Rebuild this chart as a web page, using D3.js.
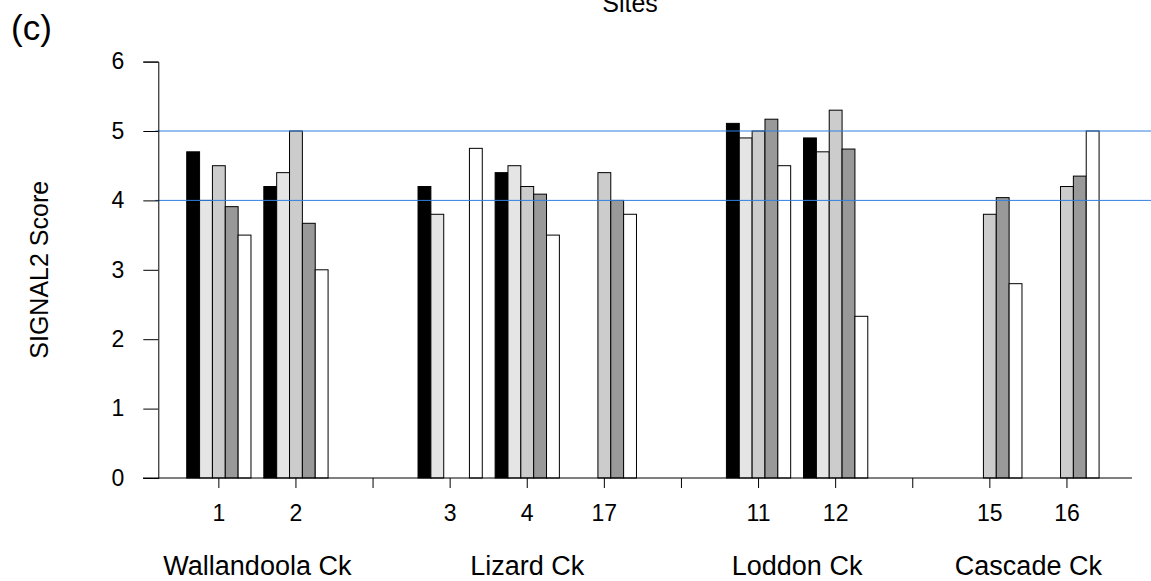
<!DOCTYPE html>
<html>
<head>
<meta charset="utf-8">
<script src="https://cdn.jsdelivr.net/npm/d3@7"></script>
<style>
  body { margin: 0; background: #fff; }
  svg text { font-family: "Liberation Sans", Arial, Helvetica, sans-serif; fill: #000; }
</style>
</head>
<body>
<div id="chart"></div>
<script>
// SIGNAL2 scores by site, grouped bar chart (panel c)

// Sites along the x axis ("" = spacer group between creeks)
const sites = ['1', '2', '', '3', '4', '17', '', '11', '12', '', '15', '16'];
// Creek each site belongs to
const siteCreek = ['Wallandoola Ck', 'Wallandoola Ck', '', 'Lizard Ck', 'Lizard Ck', 'Lizard Ck', '',
    'Loddon Ck', 'Loddon Ck', '', 'Cascade Ck', 'Cascade Ck'];
const creeks = ['Wallandoola Ck', 'Lizard Ck', 'Loddon Ck', 'Cascade Ck'];
// One array per survey (bar shade), one value per site
const survey1 = [4.70, 4.20, 0, 4.20, 4.40, 0, 0, 5.11, 4.90, 0, 0, 0];
const survey2 = [4.00, 4.40, 0, 3.80, 4.50, 0, 0, 4.90, 4.70, 0, 0, 0];
const survey3 = [4.50, 5.00, 0, 0, 4.20, 4.40, 0, 5.00, 5.30, 0, 3.80, 4.20];
const survey4 = [3.91, 3.67, 0, 0, 4.09, 4.00, 0, 5.17, 4.74, 0, 4.04, 4.35];
const survey5 = [3.50, 3.00, 0, 4.75, 3.50, 3.80, 0, 4.50, 2.33, 0, 2.80, 5.00];
const yTicks = [0, 1, 2, 3, 4, 5, 6];
const refLines = [4, 5];

const series = [survey1, survey2, survey3, survey4, survey5];
const fills = ['#000000', '#e5e5e5', '#cccccc', '#999999', '#ffffff'];

// Layout
const W = 1151, H = 581;
const plotTop = 61.6, plotBottom = 478;
const axisX = 158.3;

const svg = d3.select('#chart')
    .append('svg')
    .attr('width', W)
    .attr('height', H);

// Scales
const yScale = d3.scaleLinear()
    .domain([0, 6])
    .range([plotBottom, plotTop]);

const xGroup = d3.scaleBand()
    .domain(d3.range(sites.length))
    .range([180.3, 1105.5])
    .paddingInner(1 / 6)
    .paddingOuter(1 / 12);

const xBar = d3.scaleBand()
    .domain(d3.range(series.length))
    .range([0, xGroup.bandwidth()]);

const siteCenter = i => xGroup(i) + xGroup.bandwidth() / 2;

// Bars
const groups = svg.selectAll('.site')
    .data(sites.map((s, i) => i))
    .enter()
    .append('g')
    .attr('class', 'site')
    .attr('transform', i => `translate(${xGroup(i)},0)`);

groups.selectAll('rect')
    .data(i => series.map((vals, j) => ({ j, v: vals[i] })))
    .enter()
    .append('rect')
    .attr('x', d => xBar(d.j))
    .attr('y', d => yScale(d.v))
    .attr('width', xBar.bandwidth())
    .attr('height', d => plotBottom - yScale(d.v))
    .attr('fill', d => fills[d.j])
    .attr('stroke', '#000')
    .attr('stroke-width', 1);

// Baseline
svg.append('line')
    .attr('x1', 143)
    .attr('x2', 1132)
    .attr('y1', plotBottom)
    .attr('y2', plotBottom)
    .attr('stroke', '#000')
    .attr('stroke-width', 1);

// Reference lines (drawn over the bars)
svg.selectAll('.ref')
    .data(refLines)
    .enter()
    .append('line')
    .attr('class', 'ref')
    .attr('x1', axisX - 3)
    .attr('x2', W)
    .attr('y1', d => yScale(d))
    .attr('y2', d => yScale(d))
    .attr('stroke', '#2f80e0')
    .attr('stroke-width', 1);

// Y axis
const yAxis = d3.axisLeft(yScale)
    .tickValues(yTicks)
    .tickSize(15)
    .tickPadding(19)
    .tickFormat(d3.format('d'));

svg.append('g')
    .attr('transform', `translate(${axisX},0)`)
    .call(yAxis)
    .call(g => g.selectAll('text').style('font-size', '23px'))
    .call(g => g.selectAll('line,path').attr('stroke', '#000'));

// X axis
const xAxis = d3.axisBottom(xGroup)
    .tickSize(10)
    .tickPadding(0)
    .tickFormat(i => sites[i]);

svg.append('g')
    .attr('transform', `translate(0,${plotBottom})`)
    .call(xAxis)
    .call(g => g.select('.domain').remove())
    .call(g => g.selectAll('line').attr('stroke', '#000'))
    .call(g => g.selectAll('text')
        .attr('y', 43)
        .attr('dy', null)
        .style('font-size', '23px'));

// Creek labels, centred under their sites
const creekX = creeks.map(c => d3.mean(sites.map((s, i) => i).filter(i => siteCreek[i] === c), siteCenter));

svg.selectAll('.creek')
    .data(creeks)
    .enter()
    .append('text')
    .attr('class', 'creek')
    .attr('x', (d, i) => creekX[i])
    .attr('y', 575)
    .attr('text-anchor', 'middle')
    .style('font-size', '27px')
    .text(d => d);

// Axis title and headings
svg.append('text')
    .attr('transform', 'rotate(-90)')
    .attr('x', -(plotTop + plotBottom) / 2)
    .attr('y', 48)
    .attr('text-anchor', 'middle')
    .style('font-size', '25px')
    .text('SIGNAL2 Score');

svg.append('text')
    .attr('x', 630)
    .attr('y', 12)
    .attr('text-anchor', 'middle')
    .style('font-size', '25px')
    .text('Sites');

svg.append('text')
    .attr('x', 11)
    .attr('y', 40)
    .style('font-size', '35px')
    .text('(c)');
</script>
</body>
</html>
